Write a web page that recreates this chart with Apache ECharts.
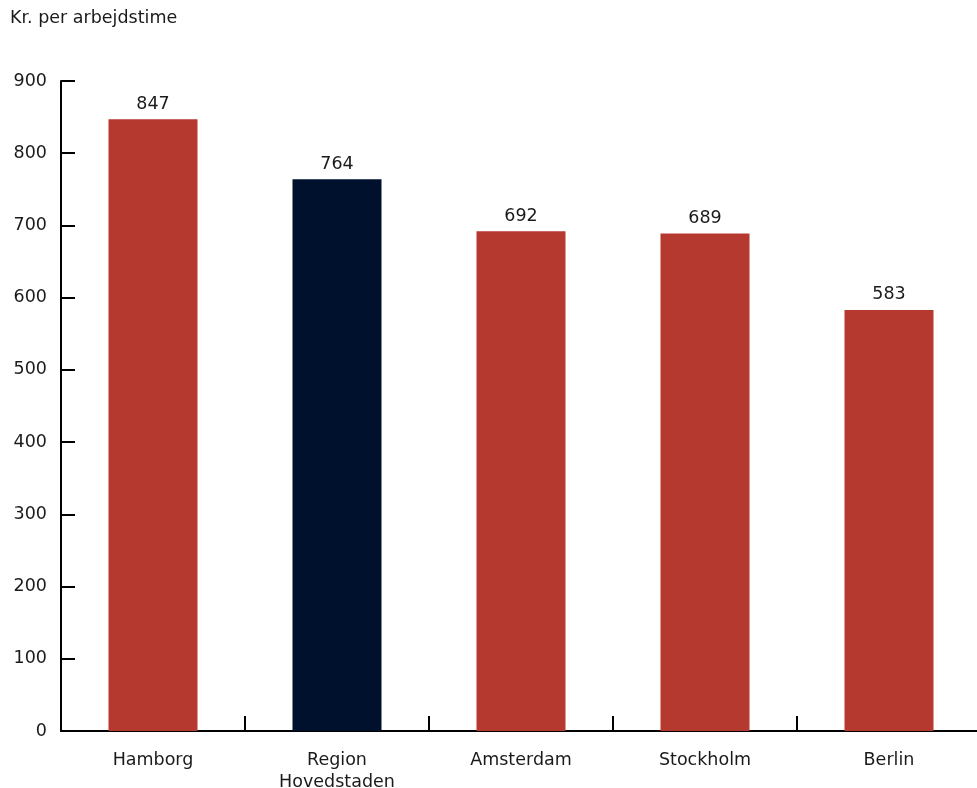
<!DOCTYPE html>
<html><head><meta charset="utf-8">
<script src="https://cdn.jsdelivr.net/npm/echarts@6/dist/echarts.min.js"></script>
<style>html,body{margin:0;padding:0;background:#fff}#c{width:977px;height:788px}</style>
</head><body><div id="c"></div>
<script>
const categories = ['Hamborg', 'Region\nHovedstaden', 'Amsterdam', 'Stockholm', 'Berlin'];
const values = [847, 764, 692, 689, 583];
const barColors = ['#b5392f', '#00112d', '#b5392f', '#b5392f', '#b5392f'];
const yTicks = [0, 100, 200, 300, 400, 500, 600, 700, 800, 900];
const unitLabel = 'Kr. per arbejdstime';

const font = '"DejaVu Sans", sans-serif';
const fs = 17.5;
const chart = echarts.init(document.getElementById('c'), null, {renderer: 'canvas'});
chart.setOption({
  animation: false,
  grid: {left: 61, top: 81, width: 920, height: 650, containLabel: false, outerBoundsMode: 'none'},
  graphic: [{type: 'text', left: 10, top: 9, style: {text: unitLabel, font: fs + 'px ' + font, fill: '#1a1a1a'}}],
  xAxis: {
    type: 'category', data: categories,
    axisLine: {lineStyle: {color: '#000', width: 2}},
    axisTick: {show: true, inside: true, length: 15, lineStyle: {color: '#000', width: 2}},
    axisLabel: {color: '#1a1a1a', fontSize: fs, fontFamily: font, margin: 18, lineHeight: 22}
  },
  yAxis: {
    type: 'value', min: 0, max: 900, interval: 100,
    axisLine: {show: true, lineStyle: {color: '#000', width: 2}},
    axisTick: {show: true, inside: true, length: 14, lineStyle: {color: '#000', width: 2}},
    splitLine: {show: false},
    axisLabel: {color: '#1a1a1a', fontSize: fs, fontFamily: font, margin: 14,
      formatter: v => yTicks.includes(v) ? String(v) : ''}
  },
  series: [{
    type: 'bar', barWidth: 89,
    data: values.map((v, i) => ({value: v, itemStyle: {color: barColors[i]}})),
    label: {show: true, position: 'top', distance: 6, color: '#1a1a1a', fontSize: fs, fontFamily: font}
  }]
});
</script></body></html>
